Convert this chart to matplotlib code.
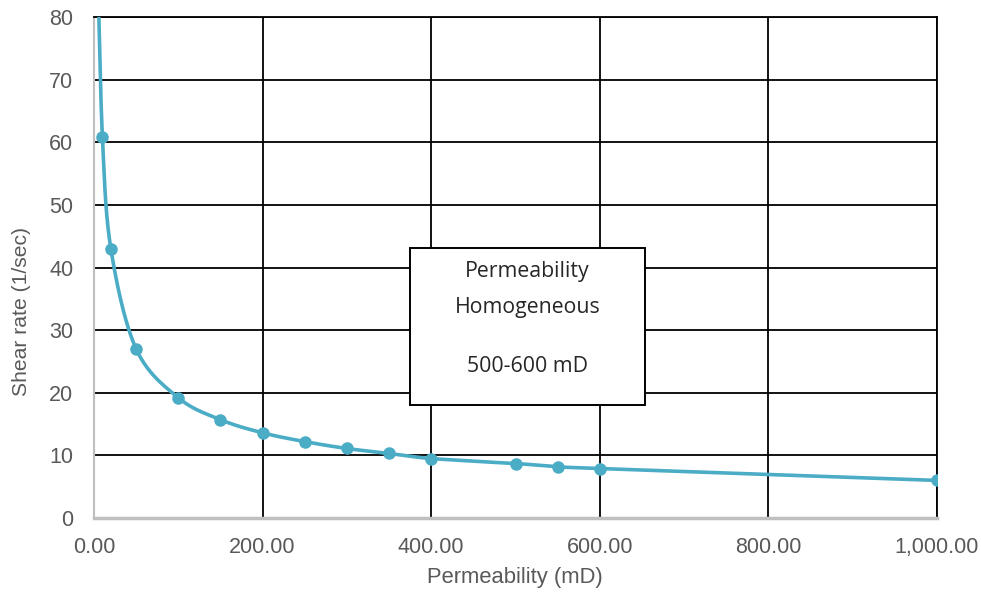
import numpy as np
import matplotlib
matplotlib.use("Agg")
import matplotlib.pyplot as plt
from matplotlib.patches import Rectangle

# Shear rate vs. permeability measurements
permeability = [5, 10, 20, 50, 100, 150, 200, 250, 300, 350, 400, 500, 550, 600, 1000]
shear_rate = [84.0, 60.8, 43.0, 27.0, 19.2, 15.7, 13.6, 12.2, 11.1, 10.3, 9.5, 8.7, 8.2, 7.9, 6.0]

x_ticks = [0, 200, 400, 600, 800, 1000]
y_ticks = [0, 10, 20, 30, 40, 50, 60, 70, 80]
box_lines = ["Permeability", "Homogeneous", "", "500-600 mD"]

LINE_COLOR = "#4BACC6"
TEXT_GRAY = "#595959"


def smooth_curve(x, y, steps=40):
    """Cubic Bezier smoothing through every point (Catmull-Rom style)."""
    x = np.asarray(x, float)
    y = np.asarray(y, float)
    px = np.concatenate([[x[0]], x, [x[-1]]])
    py = np.concatenate([[y[0]], y, [y[-1]]])
    xs, ys = [], []
    t = np.linspace(0, 1, steps)
    for i in range(1, len(px) - 2):
        p0 = np.array([px[i], py[i]])
        p3 = np.array([px[i + 1], py[i + 1]])
        c1 = p0 + (np.array([px[i + 1], py[i + 1]]) - np.array([px[i - 1], py[i - 1]])) / 6
        c2 = p3 - (np.array([px[i + 2], py[i + 2]]) - np.array([px[i], py[i]])) / 6
        b = ((1 - t) ** 3)[:, None] * p0 + (3 * (1 - t) ** 2 * t)[:, None] * c1 \
            + (3 * (1 - t) * t ** 2)[:, None] * c2 + (t ** 3)[:, None] * p3
        xs.append(b[:, 0])
        ys.append(b[:, 1])
    return np.concatenate(xs), np.concatenate(ys)


W, H = 981, 594
L, R, T, B = 94, 937, 17, 518
fig = plt.figure(figsize=(W / 100, H / 100), dpi=100)
ax = fig.add_axes([L / W, 1 - B / H, (R - L) / W, (B - T) / H])


def ax_frac(px, py):
    """Pixel position (from the figure's top-left) to axes fraction."""
    return (px - L) / (R - L), (B - py) / (B - T)


sx, sy = smooth_curve(permeability, shear_rate)
ax.plot(sx, sy, color=LINE_COLOR, lw=2.6, solid_capstyle="round", zorder=3)
ax.plot(permeability, shear_rate, "o", color=LINE_COLOR, ms=8, zorder=4)

ax.set_xlim(0, 1000)
ax.set_ylim(0, 80)
ax.set_xticks(x_ticks)
ax.set_yticks(y_ticks)
ax.set_xticklabels([f"{v:,.2f}" for v in x_ticks])
ax.set_yticklabels([str(v) for v in y_ticks])

ax.grid(True, color="black", lw=1.3, zorder=1)
ax.set_axisbelow(True)
for side in ("top", "right"):
    ax.spines[side].set_color("black")
    ax.spines[side].set_linewidth(1.3)
ax.spines["left"].set_color("#BFBFBF")
ax.spines["left"].set_linewidth(1.5)
ax.spines["bottom"].set_color("#BFBFBF")
ax.spines["bottom"].set_linewidth(2.5)

ax.tick_params(axis="x", length=0, labelsize=15.5, labelcolor=TEXT_GRAY, pad=14)
ax.tick_params(axis="y", length=0, labelsize=15.5, labelcolor=TEXT_GRAY, pad=15)
for lab in ax.get_xticklabels() + ax.get_yticklabels():
    lab.set_family("Liberation Sans")

ax.set_xlabel("Permeability (mD)", fontsize=15.8, color=TEXT_GRAY,
              family="Liberation Sans", va="center", ha="center")
ax.set_ylabel("Shear rate (1/sec)", fontsize=15.2, color=TEXT_GRAY,
              family="Liberation Sans", va="center", ha="center")
ax.xaxis.set_label_coords(*ax_frac(515, 578))
ax.yaxis.set_label_coords(*ax_frac(22, 311))

# Annotation box
bx0, by0 = ax_frac(410, 405)
bx1, by1 = ax_frac(645, 248)
ax.add_patch(Rectangle((bx0, by0), bx1 - bx0, by1 - by0, transform=ax.transAxes,
                       facecolor="white", edgecolor="black", lw=1.4, zorder=5))
text_rows = [272, 307, None, 366]
for txt, row in zip(box_lines, text_rows):
    if txt:
        ax.text(*ax_frac(527.5, row), txt, transform=ax.transAxes,
                ha="center", va="center", fontsize=15.3, family="Open Sans",
                color="#262626", zorder=6)

fig.savefig("out.png", dpi=100, facecolor="white")
